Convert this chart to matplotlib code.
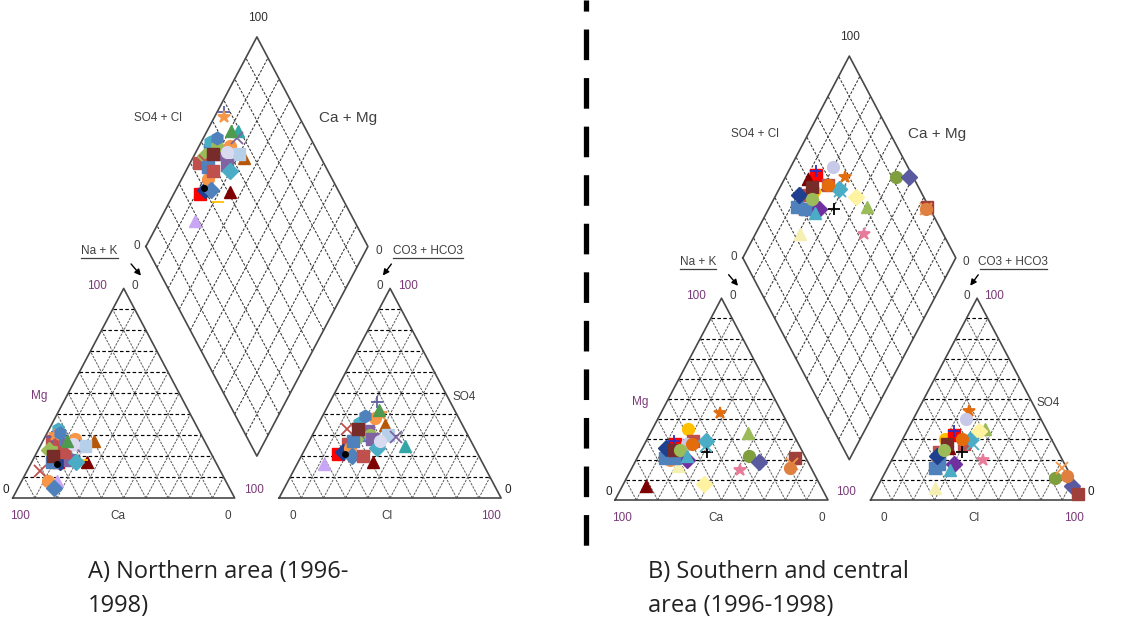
import numpy as np
import matplotlib
matplotlib.use('Agg')
import matplotlib.pyplot as plt
from matplotlib.lines import Line2D

SIN60 = np.sin(np.radians(60))

# Northern area samples (meq %)
north_ca = [66, 69, 62, 63, 58, 72, 71, 70, 58, 76, 64, 68, 60, 70, 81, 80, 79, 50, 55, 74, 65, 63, 60, 66, 66, 72, 72, 63, 60, 62]
north_mg = [28, 27, 26, 33, 28, 23, 17, 17, 17, 8, 22, 29, 18, 22, 13, 8, 5, 27, 25, 17, 18, 17, 25, 30, 22, 20, 16, 31, 26, 27]
north_nak = [6, 4, 12, 4, 14, 5, 12, 13, 25, 16, 14, 3, 22, 8, 6, 12, 16, 23, 20, 9, 17, 20, 15, 4, 12, 8, 12, 6, 14, 11]
north_hco3 = [48, 56, 44, 46, 38, 52, 63, 60, 49, 72, 31, 33, 57, 44, 53, 56, 57, 35, 36, 53, 44, 44, 33, 34, 52, 48, 60, 42, 41, 34]
north_so4 = [30, 26, 32, 36, 38, 28, 21, 22, 17, 16, 25, 46, 19, 30, 33, 24, 20, 35, 30, 27, 28, 24, 29, 40, 20, 33, 21, 39, 27, 42]
north_cl = [22, 18, 24, 18, 24, 20, 16, 18, 34, 12, 44, 21, 24, 26, 14, 20, 23, 30, 34, 20, 28, 32, 38, 26, 28, 19, 19, 19, 32, 24]

# Southern and central area samples (meq %)
south_ca = [64, 59, 48, 58, 49, 43, 56, 45, 64, 29, 21, 26, 23, 34, 82, 54, 62, 5, 8, 10, 58, 52, 44, 50, 62, 66, 63, 60, 57, 55]
south_mg = [23, 23, 35, 28, 29, 29, 20, 24, 20, 43, 33, 22, 19, 15, 7, 8, 17, 21, 18, 16, 29, 28, 27, 28, 21, 21, 26, 25, 25, 22]
south_nak = [13, 18, 17, 14, 22, 28, 24, 31, 16, 28, 46, 52, 58, 51, 11, 38, 21, 74, 74, 74, 13, 20, 29, 22, 17, 13, 11, 15, 18, 23]
south_hco3 = [56, 58, 50, 45, 42, 38, 52, 45, 60, 32, 29, 8, 2, 37, 50, 32, 67, 1, 2, 2, 44, 35, 38, 42, 59, 62, 58, 50, 53, 55]
south_so4 = [24, 20, 30, 32, 28, 30, 18, 24, 18, 44, 35, 11, 7, 20, 26, 34, 6, 3, 16, 12, 34, 40, 28, 30, 18, 16, 22, 28, 25, 15]
south_cl = [20, 22, 20, 23, 30, 32, 30, 31, 22, 24, 36, 81, 91, 43, 24, 34, 27, 96, 82, 86, 22, 25, 34, 28, 23, 22, 20, 22, 22, 30]

title_lines = [('A) Northern area (1996-', '1998)'), ('B) Southern and central', 'area (1996-1998)')]

north_style = [('s', '#4F81BD'), ('s', '#C0504D'), ('s', '#8064A2'), ('h', '#4BACC6'), ('o', '#F79646'),
               ('D', '#9BBB59'), ('s', '#FF0000'), ('D', '#1F3F8F'), ('^', '#7F0000'), ('^', '#C9A6F5'),
               ('^', '#33A6A6'), ('+', '#6060A0'), ('_', '#FFC000'), ('o', '#9BBB59'), ('x', '#C0504D'),
               ('o', '#F79646'), ('D', '#4F81BD'), ('^', '#B65708'), ('s', '#B7D0EA'), ('s', '#4F81BD'),
               ('s', '#8064A2'), ('D', '#4BACC6'), ('x', '#8064A2'), ('*', '#F79646'), ('s', '#C0504D'),
               ('s', '#772C2A'), ('o', '#000000'), ('h', '#4F81BD'), ('o', '#D9D9F0'), ('^', '#4E9A50')]
south_style = [('s', '#C0504D'), ('s', '#4F81BD'), ('o', '#FFC000'), ('s', '#FF0000'), ('s', '#C0504D'),
               ('D', '#4BACC6'), ('D', '#7030A0'), ('+', '#000000'), ('o', '#F79646'), ('*', '#E46C0A'),
               ('^', '#9BBB59'), ('o', '#7F9F3F'), ('D', '#5A5AA0'), ('*', '#E87A9A'), ('^', '#7F0000'),
               ('D', '#FFF2A0'), ('^', '#F5F0B0'), ('s', '#A0403A'), ('x', '#F79646'), ('o', '#E08040'),
               ('+', '#3030C0'), ('o', '#C8C8E8'), ('x', '#4BACC6'), ('o', '#E46C0A'), ('s', '#4F81BD'),
               ('s', '#4F81BD'), ('D', '#1F3F8F'), ('s', '#772C2A'), ('o', '#9BBB59'), ('^', '#4BACC6')]

GREY = '#404040'
PURPLE = '#7A3A78'
EDGE = '#484848'
TEXT_FONT = ['Liberation Sans', 'DejaVu Sans']
MARKER_SIZE = {'s': 9, 'D': 8, 'o': 8.5, 'h': 9, '^': 8.5}


def cation_xy(ca, mg, nak):
    tot = ca + mg + nak
    return 100 * (nak + mg / 2) / tot, 100 * mg / tot * SIN60


def anion_xy(hco3, so4, cl):
    tot = hco3 + so4 + cl
    return 120 + 100 * (cl + so4 / 2) / tot, 100 * so4 / tot * SIN60


def diamond_xy(nak, sc):
    return 60 + (nak + sc) / 2, SIN60 * (120 + sc - nak)


def draw_grid(ax):
    h = 100 * SIN60
    tri_kw = dict(color='#5a5a5a', lw=0.7, ls=(0, (2.5, 1.2)), zorder=1)
    dia_kw = dict(color='#333333', lw=0.75, ls=(0, (2.5, 1.5)), zorder=1)
    horiz_kw = dict(color='black', lw=0.85, ls=(0, (3, 2)), zorder=1)
    for x0 in (0, 120):
        ax.plot([x0, x0 + 100, x0 + 50, x0], [0, 0, h, 0], color=EDGE, lw=1.2, zorder=2)
        for i in range(1, 10):
            t = i * 10
            ax.plot([x0 + t / 2, x0 + 100 - t / 2], [t * SIN60, t * SIN60], **horiz_kw)
            ax.plot([x0 + t, x0 + t + (100 - t) / 2], [0, (100 - t) * SIN60], **tri_kw)
            ax.plot([x0 + t, x0 + t / 2], [0, t * SIN60], **tri_kw)
    # central diamond
    left, bottom = (60, 120 * SIN60), (110, 20 * SIN60)
    right, top = (160, 120 * SIN60), (110, 220 * SIN60)
    ax.plot([left[0], bottom[0], right[0], top[0], left[0]],
            [left[1], bottom[1], right[1], top[1], left[1]], color=EDGE, lw=1.2, zorder=2)
    for i in range(1, 10):
        sx, sy = 60 + 5 * i, 120 * SIN60 - 10 * i * SIN60
        ax.plot([sx, sx + 50], [sy, sy + 100 * SIN60], **dia_kw)
        sx, sy = 110 + 5 * i, 20 * SIN60 + 10 * i * SIN60
        ax.plot([sx, sx - 50], [sy, sy + 100 * SIN60], **dia_kw)


def draw_labels(ax):
    def lab(x, y, s, size=8.5, color=GREY):
        ax.text(x, y, s, fontsize=size, color=color, ha='center', va='center',
                family=TEXT_FONT, clip_on=False)

    lab(110.5, 198.5, '100', color='#303030')
    lab(65.5, 157, 'SO4 + Cl')
    lab(151, 157, 'Ca + Mg', size=11)
    lab(55.7, 104.2, '0')
    lab(164.7, 102.2, '0')
    lab(39, 102, 'Na + K')
    lab(187, 102, 'CO3 + HCO3')
    ax.plot([30.7, 47.4], [99.0, 99.0], color=GREY, lw=0.9)
    ax.plot([171.3, 202.8], [99.0, 99.0], color=GREY, lw=0.9)
    arrow = dict(arrowstyle='-|>', color='black', lw=1.0, mutation_scale=9)
    ax.annotate('', xy=(58.6, 91.0), xytext=(52.5, 97.6), arrowprops=arrow)
    ax.annotate('', xy=(166.0, 91.0), xytext=(171.3, 97.6), arrowprops=arrow)
    lab(38, 87.6, '100', color=PURPLE)
    lab(55.1, 87.6, '0')
    lab(165.4, 87.6, '0')
    lab(178, 87.6, '100', color=PURPLE)
    lab(12, 42, 'Mg', color=PURPLE)
    lab(203.5, 41.7, 'SO4')
    lab(-3, 3.4, '0', color='#202020')
    lab(108.6, 3.4, '100', color=PURPLE)
    lab(223.2, 3.4, '0', color='#202020')
    lab(3.3, -7.6, '100', color=PURPLE)
    lab(47.5, -7.6, 'Ca')
    lab(97, -7.6, '0')
    lab(126, -7.6, '0')
    lab(168.5, -7.6, 'Cl')
    lab(215.6, -7.6, '100', color=PURPLE)


def draw_samples(ax, ca, mg, nak, hco3, so4, cl, styles):
    for i in range(len(ca)):
        m, c = styles[i]
        cx, cy = cation_xy(ca[i], mg[i], nak[i])
        axx, ay = anion_xy(hco3[i], so4[i], cl[i])
        tot_c = ca[i] + mg[i] + nak[i]
        tot_a = hco3[i] + so4[i] + cl[i]
        dx, dy = diamond_xy(100 * nak[i] / tot_c, 100 * (so4[i] + cl[i]) / tot_a)
        if m in ('x', '+', '_', '*'):
            kw = dict(marker=m, color=c, ms=9, mew=1.3, ls='none', zorder=3)
        else:
            ms = 4 if c == '#000000' else MARKER_SIZE[m]
            kw = dict(marker=m, color=c, mec=c, ms=ms, ls='none', zorder=3)
        ax.plot([cx, axx, dx], [cy, ay, dy], **kw)


def panel(fig, rect, ca, mg, nak, hco3, so4, cl, styles):
    ax = fig.add_axes(rect)
    ax.set_xlim(-5, 245)
    ax.set_ylim(-30, 205)
    ax.axis('off')
    draw_grid(ax)
    draw_labels(ax)
    draw_samples(ax, ca, mg, nak, hco3, so4, cl, styles)
    return ax


W, H = 1137, 620
fig = plt.figure(figsize=(W / 100, H / 100), dpi=100)

# panel A: x_px = 12.7 + 2.22 x, y_px = 498 - 2.42 y
sa, sya = 2.22, 2.42
la, ba = 12.7 - 5 * sa, 498 + 30 * sya
panel(fig, [la / W, (H - ba) / H, 250 * sa / W, 235 * sya / H],
      north_ca, north_mg, north_nak, north_hco3, north_so4, north_cl, north_style)

# panel B: x_px = 615 + 2.13 x, y_px = 500 - 2.33 y
sb, syb = 2.13, 2.33
lb, bb = 615 - 5 * sb, 500 + 30 * syb
panel(fig, [lb / W, (H - bb) / H, 250 * sb / W, 235 * syb / H],
      south_ca, south_mg, south_nak, south_hco3, south_so4, south_cl, south_style)

# separator between the two areas
fig.add_artist(Line2D([586 / W, 586 / W], [1.0, 1 - 555 / H], color='black', lw=3.8,
                      ls=(3.7, (5.8, 3.4)), transform=fig.transFigure))

cap_font = ['Open Sans', 'DejaVu Sans']
for x_px, lines in zip((88, 648), title_lines):
    for y_px, line in zip((578, 612), lines):
        fig.text(x_px / W, 1 - y_px / H, line, fontsize=17, family=cap_font,
                 color='#222222', va='baseline')

fig.savefig('out.png', dpi=100, facecolor='white')
